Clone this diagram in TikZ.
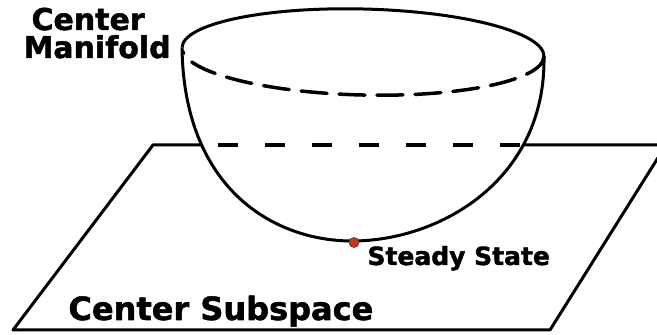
\documentclass[tikz,border=0pt]{standalone}
\usepackage{fontspec}
\setmainfont{DejaVu Sans}
\newfontfamily\blackfont[FakeBold=1.6]{DejaVu Sans Bold}

\definecolor{dotred}{RGB}{204,51,17}

\begin{document}
\begin{tikzpicture}[x=1pt, y=1pt, line width=3pt, line join=round,
    heavy/.style={inner sep=0pt, anchor=base west},
    rimdash/.style={line width=3.5pt, dash pattern=on 26pt off 12pt},
    cutdash/.style={line width=3.5pt, dash pattern=on 20pt off 27pt, dash phase=30pt}]
    \useasboundingbox (0,0) rectangle (657,335);
    \clip (0,0) rectangle (657,335);

    % Plane corners and where the bowl crosses its back edge
    \coordinate (TL) at (153,190);
    \coordinate (TR) at (666,190);
    \coordinate (BR) at (550,5);
    \coordinate (BL) at (13,5);
    \coordinate (cutL) at (201,190);
    \coordinate (cutR) at (523,190);

    % Rim of the bowl
    \coordinate (rimC) at (363,283);
    \coordinate (rimL) at (182,287.4);
    \coordinate (rimR) at (544,278.6);

    % Plane
    \draw (cutR) -- (TR) -- (BR) -- (BL) -- (TL) -- (cutL);
    \draw[cutdash, line cap=butt] (cutL) -- (cutR);

    % Bowl
    \draw[rotate around={-1.4:(rimC)}] (182,283) arc[start angle=180, end angle=0, x radius=181pt, y radius=43pt];
    \draw[rotate around={-1.4:(rimC)}, rimdash, line cap=round] (544,283) arc[start angle=0, end angle=-175, x radius=181pt, y radius=43pt];
    \draw (rimL) .. controls (184,145) and (275,94) .. (352,94)
                 .. controls (440,94) and (546,155) .. (rimR);

    % Steady state point
    \node[circle, fill=dotred, draw=black!75, line width=0.7pt, minimum size=10pt, inner sep=0pt] (steady) at (354,92.5) {};

    % Labels
    \node[heavy, font=\blackfont\fontsize{30}{30}\selectfont] (cmtop) at (30,305) {Center};
    \node[heavy, font=\blackfont\fontsize{30}{30}\selectfont] (cmbot) at (22,277) {Manifold};
    \node[heavy, font=\blackfont\fontsize{32}{32}\selectfont] (subspace) at (67,15) {Center Subspace};
    \node[heavy, font=\blackfont\fontsize{25}{25}\selectfont] (ss) at (366,70) {Steady State};
\end{tikzpicture}
\end{document}
